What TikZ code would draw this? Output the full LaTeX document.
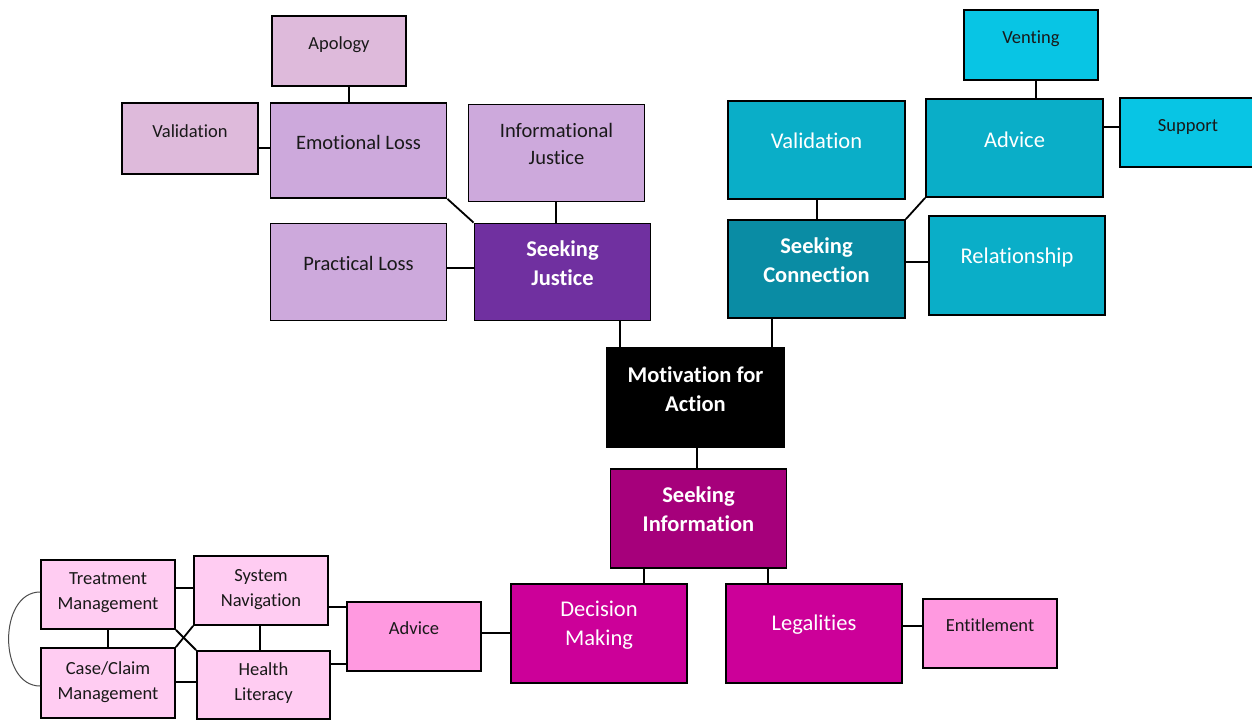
\documentclass[tikz,border=0pt]{standalone}
\usepackage{fontspec}
\setmainfont{Carlito}[Ligatures=CommonOff]
\usetikzlibrary{calc}
\definecolor{pLight}{HTML}{DEBADB}
\definecolor{pMid}{HTML}{CDA9DC}
\definecolor{pDark}{HTML}{7030A0}
\definecolor{tMid}{HTML}{0AAEC8}
\definecolor{tLight}{HTML}{08C5E4}
\definecolor{tDark}{HTML}{0A8CA4}
\definecolor{mDark}{HTML}{A6007B}
\definecolor{mMid}{HTML}{CC0099}
\definecolor{mLight}{HTML}{FF99E0}
\definecolor{mPale}{HTML}{FFCCF2}
\tikzset{
 box/.style={draw=black, line width=1.8pt, rectangle, inner sep=0pt},
 big/.style={box, minimum width=176pt, minimum height=97pt},
 small/.style={box, minimum width=134pt, minimum height=70pt},
 conn/.style={line width=1.8pt},
 lt/.style={font=\fontsize{18.5}{25}\selectfont, text=black!90, align=center},
 wt/.style={font=\fontsize{22.5}{29}\selectfont, text=white, align=center},
 bt/.style={font=\fontsize{22.5}{29}\selectfont\bfseries, text=white, align=center},
 mt/.style={font=\fontsize{20.5}{27}\selectfont, text=black!90, align=center},
}
\begin{document}
\begin{tikzpicture}[x=1pt,y=-1pt]
\useasboundingbox[fill=white] (0,0) rectangle (1252,720);
% purple branch
\node[small, fill=pLight, label={[lt,yshift=6pt]center:Apology}] (apology) at (339,51) {};
\node[small, fill=pLight, minimum width=136pt, minimum height=71pt, label={[lt,yshift=7.5pt]center:Validation}] (valL) at (190,138.5) {};
\node[big, fill=pMid, minimum height=95pt, label={[mt,yshift=8.5pt]center:{Emotional Loss}}] (emo) at (358.5,150.5) {};
\node[big, fill=pMid, label={[mt,yshift=9pt]center:{Informational\\Justice}}] (infoJ) at (556.5,153) {};
\node[big, fill=pMid, label={[mt,yshift=9pt]center:{Practical Loss}}] (pracL) at (358.5,272) {};
\node[big, fill=pDark, label={[bt,yshift=8.5pt]center:{Seeking\\Justice}}] (sj) at (562.5,272) {};
% teal branch
\node[big, fill=tMid, minimum width=177pt, minimum height=98pt, label={[wt,yshift=9pt]center:Validation}] (valT) at (816.5,150) {};
\node[small, fill=tLight, label={[lt,yshift=6pt]center:Venting}] (venting) at (1031,45) {};
\node[big, fill=tMid, minimum width=177pt, minimum height=98pt, label={[wt,yshift=8pt]center:Advice}] (advT) at (1014.5,148) {};
\node[small, fill=tLight, minimum width=136pt, minimum height=69pt, label={[lt,yshift=6pt]center:Support}] (support) at (1188,132.5) {};
\node[big, fill=tDark, minimum width=177pt, minimum height=98pt, label={[bt,yshift=8.5pt]center:{Seeking\\Connection}}] (sc) at (816.5,269) {};
\node[big, fill=tMid, minimum height=99pt, label={[wt,yshift=8.5pt]center:Relationship}] (rel) at (1017,265.5) {};
% centre
\node[big, fill=black, minimum width=177pt, minimum height=99pt, label={[bt,yshift=8pt]center:{Motivation for\\Action}}] (motiv) at (695.5,397.5) {};
% magenta branch
\node[big, fill=mDark, minimum height=99pt, label={[bt,yshift=9pt]center:{Seeking\\Information}}] (si) at (698.5,518.5) {};
\node[big, fill=mMid, minimum height=99pt, label={[wt,yshift=8pt]center:{Decision\\Making}}] (dm) at (599,633.5) {};
\node[big, fill=mMid, minimum height=99pt, label={[wt,yshift=8.5pt]center:Legalities}] (leg) at (814,633.5) {};
\node[small, fill=mLight, minimum height=69pt, label={[lt,yshift=8.5pt]center:Entitlement}] (ent) at (990,633.5) {};
\node[small, fill=mLight, minimum height=69pt, label={[lt,yshift=8.5pt]center:Advice}] (advP) at (414,636.5) {};
\node[small, fill=mPale, minimum height=69pt, label={[lt,yshift=1.5pt]center:{Treatment\\Management}}] (tm) at (108,594.5) {};
\node[small, fill=mPale, minimum height=69pt, label={[lt,yshift=1pt]center:{System\\Navigation}}] (sn) at (261,590.5) {};
\node[small, fill=mPale, label={[lt,yshift=1pt]center:{Case/Claim\\Management}}] (ccm) at (108,683) {};
\node[small, fill=mPale, minimum width=133pt, minimum height=68pt, label={[lt,yshift=1.5pt]center:{Health\\Literacy}}] (hl) at (263.5,685) {};
% connectors
\draw[conn] (apology.south -| 349,0) -- (emo.north -| 349,0);
\draw[conn] (valL.east |- 0,148) -- (emo.west |- 0,148);
\draw[conn] (emo.south east) -- (sj.north west);
\draw[conn] (infoJ.south -| 556,0) -- (sj.north -| 556,0);
\draw[conn] (pracL.east |- 0,268) -- (sj.west |- 0,268);
\draw[conn] (sj.south -| 620,0) -- (motiv.north -| 620,0);
\draw[conn] (sc.south -| 772,0) -- (motiv.north -| 772,0);
\draw[conn] (valT.south -| 817,0) -- (sc.north -| 817,0);
\draw[conn] (advT.south west) -- (sc.north east);
\draw[conn] (venting.south -| 1036,0) -- (advT.north -| 1036,0);
\draw[conn] (advT.east |- 0,127) -- (support.west |- 0,127);
\draw[conn] (sc.east |- 0,262) -- (rel.west |- 0,262);
\draw[conn] (motiv.south -| 697,0) -- (si.north -| 697,0);
\draw[conn] (si.south -| 644,0) -- (dm.north -| 644,0);
\draw[conn] (si.south -| 768,0) -- (leg.north -| 768,0);
\draw[conn] (leg.east |- 0,626) -- (ent.west |- 0,626);
\draw[conn] (dm.west |- 0,633) -- (advP.east |- 0,633);
\draw[conn] (advP.west |- 0,607) -- (sn.east |- 0,607);
\draw[conn] (advP.west |- 0,664) -- (hl.east |- 0,664);
\draw[conn] (tm.east |- 0,588) -- (sn.west |- 0,588);
\draw[conn] (ccm.east |- 0,682) -- (hl.west |- 0,682);
\draw[conn] (tm.south -| 108,0) -- (ccm.north -| 108,0);
\draw[conn] (sn.south -| 260,0) -- (hl.north -| 260,0);
\draw[conn] (tm.south east) -- (hl.north west);
\draw[conn] (sn.south west) -- (ccm.north east);
\draw[line width=1pt, black!70] (tm.west |- 0,592) .. controls +(-42,0) and +(-42,0) .. (ccm.west |- 0,686);
\end{tikzpicture}
\end{document}
